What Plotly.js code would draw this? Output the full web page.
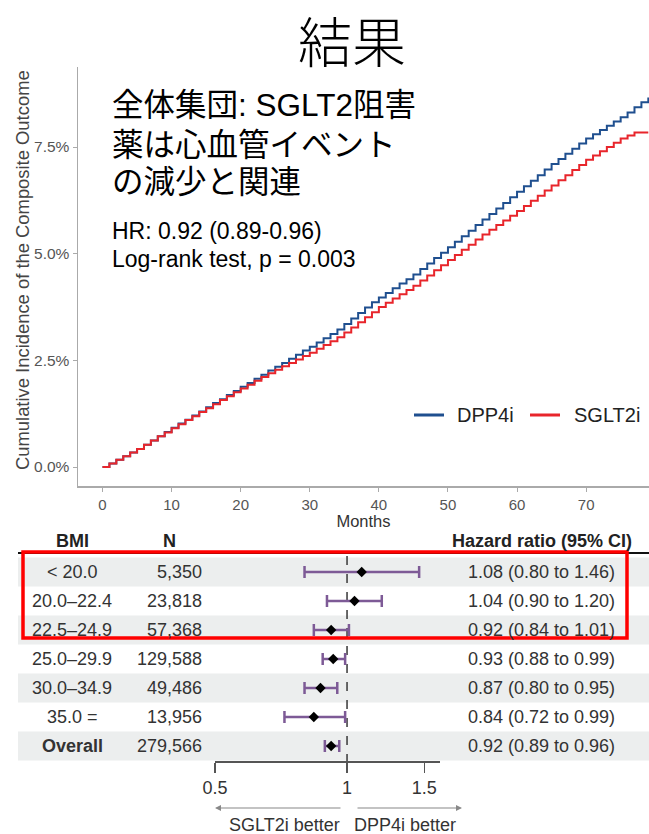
<!DOCTYPE html>
<html>
<head>
<meta charset="utf-8">
<script src="https://cdn.plot.ly/plotly-3.0.1.min.js"></script>
<style>html,body{margin:0;padding:0;background:#fff;}#chart{width:649px;height:834px;}</style>
</head>
<body>
<div id="chart"></div>
<script>
// ---------- DATA ----------
const months = [0,1,2,3,4,5,6,7,8,9,10,11,12,13,14,15,16,17,18,19,20,21,22,23,24,25,26,27,28,29,30,31,32,33,34,35,36,37,38,39,40,41,42,43,44,45,46,47,48,49,50,51,52,53,54,55,56,57,58,59,60,61,62,63,64,65,66,67,68,69,70,71,72,73,74,75,76,77,78,79];
const dpp4i = [0.00,0.08,0.17,0.25,0.34,0.42,0.52,0.62,0.72,0.82,0.92,1.02,1.11,1.21,1.30,1.40,1.50,1.59,1.69,1.78,1.88,1.97,2.07,2.16,2.26,2.35,2.44,2.54,2.63,2.73,2.82,2.92,3.02,3.12,3.22,3.35,3.48,3.61,3.74,3.86,3.97,4.08,4.19,4.30,4.40,4.51,4.64,4.77,4.90,5.02,5.15,5.28,5.41,5.54,5.67,5.80,5.93,6.06,6.19,6.32,6.45,6.58,6.71,6.84,6.97,7.10,7.22,7.34,7.46,7.58,7.70,7.80,7.90,8.00,8.10,8.20,8.31,8.43,8.55,8.66];
const sglt2i = [0.00,0.08,0.17,0.25,0.34,0.42,0.52,0.62,0.72,0.81,0.91,1.00,1.10,1.19,1.29,1.38,1.47,1.57,1.66,1.75,1.84,1.93,2.02,2.11,2.20,2.28,2.36,2.44,2.52,2.60,2.68,2.77,2.86,2.95,3.04,3.15,3.27,3.39,3.51,3.63,3.75,3.85,3.95,4.05,4.15,4.25,4.37,4.49,4.61,4.73,4.85,4.97,5.09,5.21,5.33,5.45,5.56,5.67,5.78,5.89,6.00,6.12,6.24,6.36,6.48,6.60,6.72,6.84,6.96,7.08,7.20,7.30,7.40,7.50,7.60,7.70,7.77,7.84,7.84,7.84];
const kmXTicks = [0,10,20,30,40,50,60,70];
const kmYTicks = [0,2.5,5,7.5];
const kmYTickText = ['0.0%','2.5%','5.0%','7.5%'];
const seriesNames = ['DPP4i','SGLT2i'];
const seriesColors = ['#1f4f8f','#e8252b'];

const bmiGroups = ['< 20.0','20.0–22.4','22.5–24.9','25.0–29.9','30.0–34.9','35.0 =','Overall'];
const nPatients = [5350,23818,57368,129588,49486,13956,279566];
const hr   = [1.08,1.04,0.92,0.93,0.87,0.84,0.92];
const hrLo = [0.80,0.90,0.84,0.88,0.80,0.72,0.89];
const hrHi = [1.46,1.20,1.01,0.99,0.95,0.99,0.96];
const forestTicks = [0.5,1,1.5];
const forestTickText = ['0.5','1','1.5'];
const nullHR = 1;

// ---------- LAYOUT HELPERS ----------
const W = 649, H = 834;
const px = x => x / W;
const py = y => 1 - y / H;
const FONT = 'Liberation Sans, Arial, Noto Sans CJK JP, sans-serif';
const JFONT = 'Liberation Sans, Noto Sans CJK JP, sans-serif';
const TS = 18; // table font size
const rowIdx = bmiGroups.map((_, i) => i);

const traces = [
  {x: months, y: dpp4i, name: seriesNames[0], type: 'scatter', mode: 'lines', showlegend: false,
   line: {shape: 'hv', color: seriesColors[0], width: 2}, xaxis: 'x', yaxis: 'y'},
  {x: months, y: sglt2i, name: seriesNames[1], type: 'scatter', mode: 'lines', showlegend: false,
   line: {shape: 'hv', color: seriesColors[1], width: 2}, xaxis: 'x', yaxis: 'y'},
  {x: [nullHR, nullHR], y: [-0.55, 6.6], type: 'scatter', mode: 'lines', showlegend: false,
   line: {color: '#444', width: 1.6, dash: 'dash'}, xaxis: 'x2', yaxis: 'y2', hoverinfo: 'skip'},
  {x: hr, y: rowIdx, type: 'scatter', mode: 'markers', showlegend: false,
   marker: {symbol: 'diamond', size: 8, color: '#000'},
   error_x: {type: 'data', symmetric: false,
             array: hr.map((v, i) => hrHi[i] - v),
             arrayminus: hr.map((v, i) => v - hrLo[i]),
             color: '#7d5a96', thickness: 2.5, width: 6},
   xaxis: 'x2', yaxis: 'y2'}
];

const shapes = [];
rowIdx.forEach(i => {
  if (i % 2 === 0) {
    shapes.push({type: 'rect', xref: 'paper', yref: 'y2', x0: px(18), x1: 1, y0: i - 0.5, y1: i + 0.5,
                 fillcolor: '#eceeee', line: {width: 0}, layer: 'below'});
  }
});
shapes.push({type: 'line', xref: 'paper', yref: 'paper', x0: px(18), x1: 1, y0: py(553), y1: py(553),
             line: {color: '#111', width: 2}});
shapes.push({type: 'rect', xref: 'paper', yref: 'paper', x0: px(23), x1: px(627), y0: py(552), y1: py(638),
             line: {color: '#ff0000', width: 3.5}, fillcolor: 'rgba(0,0,0,0)'});

// manual legend (line keys + labels)
const legendKeyX = [414, 530];
const legendTextX = [455, 572];
const legendY = 415;
seriesNames.forEach((nm, k) => {
  shapes.push({type: 'line', xref: 'paper', yref: 'paper', x0: px(legendKeyX[k]), x1: px(legendKeyX[k] + 30),
               y0: py(legendY), y1: py(legendY), line: {color: seriesColors[k], width: 3}});
});

const annotations = [
  {text: '結果', x: px(352), y: py(39), xref: 'paper', yref: 'paper', showarrow: false,
   xanchor: 'center', yanchor: 'middle', font: {family: 'Noto Sans CJK JP', size: 54, color: '#000', weight: 300}},
  {text: '全体集団: SGLT2阻害', x: px(110), y: py(105), xref: 'paper', yref: 'paper', showarrow: false,
   xanchor: 'left', yanchor: 'middle', font: {family: JFONT, size: 31.5, color: '#000'}},
  {text: '薬は心血管イベント', x: px(110), y: py(145), xref: 'paper', yref: 'paper', showarrow: false,
   xanchor: 'left', yanchor: 'middle', font: {family: JFONT, size: 31.5, color: '#000'}},
  {text: 'の減少と関連', x: px(110), y: py(182), xref: 'paper', yref: 'paper', showarrow: false,
   xanchor: 'left', yanchor: 'middle', font: {family: JFONT, size: 31.5, color: '#000'}},
  {text: 'HR: 0.92 (0.89-0.96)', x: px(110), y: py(231), xref: 'paper', yref: 'paper', showarrow: false,
   xanchor: 'left', yanchor: 'middle', font: {family: FONT, size: 23, color: '#000'}},
  {text: 'Log-rank test, p = 0.003', x: px(110), y: py(259), xref: 'paper', yref: 'paper', showarrow: false,
   xanchor: 'left', yanchor: 'middle', font: {family: FONT, size: 23, color: '#000'}},
  {text: 'Cumulative Incidence of the Composite Outcome', x: px(22), y: py(270), xref: 'paper', yref: 'paper',
   showarrow: false, textangle: -90, xanchor: 'center', yanchor: 'middle', font: {family: FONT, size: 18.4, color: '#444'}},
  // forest headers
  {text: '<b>BMI</b>', x: px(72), y: py(541), xref: 'paper', yref: 'paper', showarrow: false,
   xanchor: 'center', yanchor: 'middle', font: {family: FONT, size: TS, color: '#222'}},
  {text: '<b>N</b>', x: px(169), y: py(541), xref: 'paper', yref: 'paper', showarrow: false,
   xanchor: 'center', yanchor: 'middle', font: {family: FONT, size: TS, color: '#222'}},
  {text: '<b>Hazard ratio (95% CI)</b>', x: px(634), y: py(541), xref: 'paper', yref: 'paper', showarrow: false,
   xanchor: 'right', yanchor: 'middle', font: {family: FONT, size: TS, color: '#222'}},
  // arrows
  {text: '', x: px(215), y: py(808), ax: 127, ay: 0, xref: 'paper', yref: 'paper', showarrow: true,
   arrowhead: 2, arrowsize: 1, arrowwidth: 1.2, arrowcolor: '#888'},
  {text: '', x: px(462), y: py(808), ax: -106, ay: 0, xref: 'paper', yref: 'paper', showarrow: true,
   arrowhead: 2, arrowsize: 1, arrowwidth: 1.2, arrowcolor: '#888'},
  {text: 'SGLT2i better', x: px(342), y: py(825), xref: 'paper', yref: 'paper', showarrow: false,
   xanchor: 'right', yanchor: 'middle', font: {family: FONT, size: TS, color: '#333'}},
  {text: 'DPP4i better', x: px(352), y: py(825), xref: 'paper', yref: 'paper', showarrow: false,
   xanchor: 'left', yanchor: 'middle', font: {family: FONT, size: TS, color: '#333'}}
];

seriesNames.forEach((nm, k) => {
  annotations.push({text: nm, x: px(legendTextX[k]), y: py(legendY), xref: 'paper', yref: 'paper',
    showarrow: false, xanchor: 'left', yanchor: 'middle', font: {family: FONT, size: 20, color: '#222'}});
});

rowIdx.forEach(i => {
  const bold = bmiGroups[i] === 'Overall';
  annotations.push({text: bold ? '<b>' + bmiGroups[i] + '</b>' : bmiGroups[i], x: px(72), y: i,
    xref: 'paper', yref: 'y2', showarrow: false, xanchor: 'center', yanchor: 'middle',
    font: {family: FONT, size: TS, color: '#333'}});
  annotations.push({text: nPatients[i].toLocaleString('en-US'), x: px(204), y: i,
    xref: 'paper', yref: 'y2', showarrow: false, xanchor: 'right', yanchor: 'middle',
    font: {family: FONT, size: TS, color: '#333'}});
  annotations.push({text: hr[i].toFixed(2) + ' (' + hrLo[i].toFixed(2) + ' to ' + hrHi[i].toFixed(2) + ')',
    x: px(617), y: i, xref: 'paper', yref: 'y2', showarrow: false, xanchor: 'right', yanchor: 'middle',
    font: {family: FONT, size: TS, color: '#333'}});
});

const layout = {
  width: W, height: H,
  margin: {l: 0, r: 0, t: 0, b: 0},
  paper_bgcolor: '#fff', plot_bgcolor: 'rgba(0,0,0,0)',
  font: {family: FONT},
  showlegend: false,
  xaxis: {domain: [px(78), 1], range: [-3.55, 79.1], tickvals: kmXTicks, showline: true,
          linecolor: '#aaa', linewidth: 1.5, ticks: 'outside', ticklen: 4, tickcolor: '#aaa',
          showgrid: false, zeroline: false, tickfont: {size: 15, color: '#555'},
          title: {text: 'Months', font: {size: 16.5, color: '#333'}, standoff: 3}, anchor: 'y'},
  yaxis: {domain: [py(486), py(67)], range: [-0.445, 9.375], tickvals: kmYTicks, ticktext: kmYTickText,
          showline: true, linecolor: '#aaa', linewidth: 1.5, ticks: 'outside', ticklen: 4, tickcolor: '#aaa',
          showgrid: false, zeroline: false, tickfont: {size: 15.5, color: '#555'}, anchor: 'x'},
  xaxis2: {domain: [px(215), px(440)], type: 'log', range: [Math.log10(0.5), Math.log10(1.629)],
           tickvals: forestTicks, ticktext: forestTickText, showline: true, linecolor: '#555', linewidth: 1.5,
           ticks: 'outside', ticklen: 10, tickcolor: '#555', tickwidth: 1.5, showgrid: false, zeroline: false,
           tickfont: {size: TS, color: '#333'}, anchor: 'y2'},
  yaxis2: {domain: [py(761), py(553)], range: [6.517, -0.655], visible: false, anchor: 'x2'},
  shapes: shapes,
  annotations: annotations
};

Plotly.newPlot('chart', traces, layout, {displayModeBar: false, staticPlot: true});
</script>
</body>
</html>
